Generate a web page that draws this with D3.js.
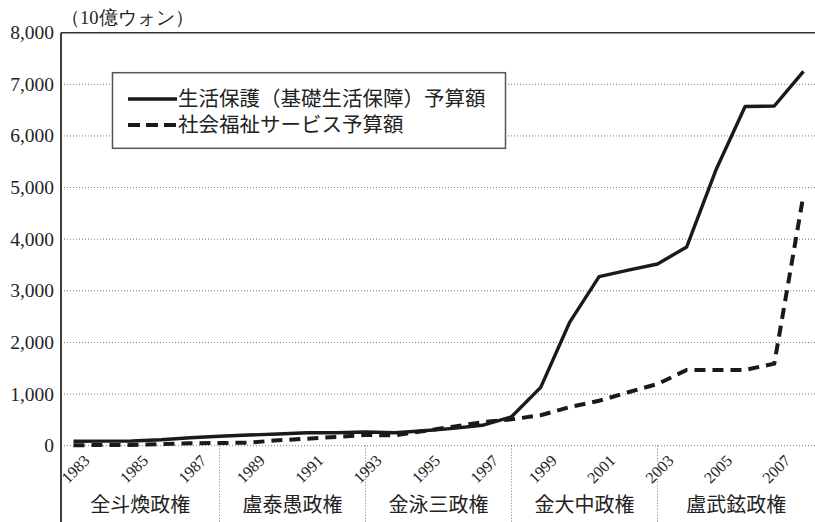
<!DOCTYPE html>
<html>
<head>
<meta charset="utf-8">
<script src="https://cdn.jsdelivr.net/npm/d3@7"></script>
<style>
  body { margin: 0; background: #fff; }
  svg { display: block; }
</style>
</head>
<body>
<svg id="chart" width="815" height="522"></svg>
<script>
// years on the category axis
var years = d3.range(1983, 2009);
// 生活保護（基礎生活保障）予算額, 10億ウォン
var livelihood = [85, 88, 91, 116, 155, 182, 207, 226, 252, 252, 265, 250, 290, 336, 395,
	560, 1130, 2400, 3275, 3400, 3520, 3850, 5340, 6570, 6580, 7250];
// 社会福祉サービス予算額
var welfare = [10, 12, 15, 30, 46, 52, 60, 104, 136, 169, 207, 201, 285, 368, 455,
	510, 590, 750, 870, 1035, 1195, 1467, 1467, 1467, 1590, 4860];
var yTicks = [0, 1000, 2000, 3000, 4000, 5000, 6000, 7000, 8000];
var yearLabels = [1983, 1985, 1987, 1989, 1991, 1993, 1995, 1997, 1999, 2001, 2003, 2005, 2007];
var regimes = ["全斗煥政権", "盧泰愚政権", "金泳三政権", "金大中政権", "盧武鉉政権"];
var regimeBreaks = [1988, 1993, 1998, 2003];
var seriesNames = ["生活保護（基礎生活保障）予算額", "社会福祉サービス予算額"];

var plotLeft = 61, plotRight = 815, plotTop = 32.7, plotBottom = 522;
var serifFont = "'Liberation Serif', 'Times New Roman', 'DejaVu Serif', serif";
var jpFont = "'Noto Sans CJK JP', sans-serif";

var svg = d3.select("#chart");

var x = d3.scalePoint().domain(years).range([73.5, 803.5]);
var y = d3.scaleLinear().domain([0, 8000]).range([445.7, plotTop]);

// grid lines
svg.append("g")
	.selectAll("line")
	.data(yTicks.slice(0, -1))
	.enter().append("line")
	.attr("x1", plotLeft).attr("x2", plotRight)
	.attr("y1", function(d) { return y(d); })
	.attr("y2", function(d) { return y(d); })
	.attr("stroke", "#777")
	.attr("stroke-width", 1)
	.attr("stroke-dasharray", "1,2");

// regime separators
svg.append("g")
	.selectAll("line")
	.data(regimeBreaks)
	.enter().append("line")
	.attr("x1", function(d) { return x(d); })
	.attr("x2", function(d) { return x(d); })
	.attr("y1", y(0)).attr("y2", plotBottom)
	.attr("stroke", "#777")
	.attr("stroke-width", 1)
	.attr("stroke-dasharray", "1,2");

// frame: left axis and top line
svg.append("line")
	.attr("x1", plotLeft).attr("x2", plotLeft).attr("y1", plotTop).attr("y2", plotBottom)
	.attr("stroke", "#111").attr("stroke-width", 1.6);
svg.append("line")
	.attr("x1", plotLeft).attr("x2", plotRight).attr("y1", plotTop).attr("y2", plotTop)
	.attr("stroke", "#333").attr("stroke-width", 1.4);

// y tick labels
svg.append("g")
	.selectAll("text")
	.data(yTicks)
	.enter().append("text")
	.attr("font-family", serifFont)
	.attr("fill", "#222")
	.attr("x", 54)
	.attr("y", function(d) { return y(d) + 6.5; })
	.attr("text-anchor", "end")
	.attr("font-size", 19.5)
	.text(function(d) { return d3.format(",")(d); });

svg.append("text")
	.attr("font-family", serifFont)
	.attr("fill", "#222")
	.attr("x", 61).attr("y", 24)
	.attr("font-size", 18.5)
	.text("（10億ウォン）");

// year labels, rotated
svg.append("g")
	.selectAll("text")
	.data(yearLabels)
	.enter().append("text")
	.attr("font-family", serifFont)
	.attr("fill", "#222")
	.attr("font-size", 16)
	.attr("text-anchor", "middle")
	.attr("dominant-baseline", "central")
	.attr("transform", function(d) { return "translate(" + (x(d) + 2) + ",469) rotate(-45)"; })
	.text(function(d) { return d; });

// regime labels
var bounds = [plotLeft].concat(regimeBreaks.map(function(d) { return x(d); })).concat([plotRight]);
svg.append("g")
	.selectAll("text")
	.data(regimes)
	.enter().append("text")
	.attr("font-family", jpFont)
	.attr("fill", "#222")
	.attr("font-size", 20)
	.attr("text-anchor", "middle")
	.attr("x", function(d, i) { return (bounds[i] + bounds[i + 1]) / 2; })
	.attr("y", 512)
	.text(function(d) { return d; });

// lines
var line = d3.line()
	.x(function(d, i) { return x(years[i]); })
	.y(function(d) { return y(d); });

svg.append("path")
	.datum(welfare)
	.attr("d", line)
	.attr("fill", "none")
	.attr("stroke", "#1a1a1a")
	.attr("stroke-width", 4)
	.attr("stroke-dasharray", "11,7");

svg.append("path")
	.datum(livelihood)
	.attr("d", line)
	.attr("fill", "none")
	.attr("stroke", "#1a1a1a")
	.attr("stroke-width", 3.4)
	.attr("stroke-linejoin", "round");

// legend
var legend = svg.append("g");
legend.append("rect")
	.attr("x", 112.5).attr("y", 72.7)
	.attr("width", 393).attr("height", 75.6)
	.attr("fill", "#fff")
	.attr("stroke", "#555")
	.attr("stroke-width", 1.5);

legend.selectAll(".sample")
	.data(seriesNames)
	.enter().append("line")
	.attr("x1", 128).attr("x2", 177)
	.attr("y1", function(d, i) { return 99 + i * 26; })
	.attr("y2", function(d, i) { return 99 + i * 26; })
	.attr("stroke", "#1a1a1a")
	.attr("stroke-width", function(d, i) { return i ? 4 : 3.4; })
	.attr("stroke-dasharray", function(d, i) { return i ? "12,6" : null; });

legend.selectAll(".label")
	.data(seriesNames)
	.enter().append("text")
	.attr("font-family", jpFont)
	.attr("fill", "#222")
	.attr("font-size", 20.5)
	.attr("x", 178)
	.attr("y", function(d, i) { return 106 + i * 26; })
	.text(function(d) { return d; });
</script>
</body>
</html>
